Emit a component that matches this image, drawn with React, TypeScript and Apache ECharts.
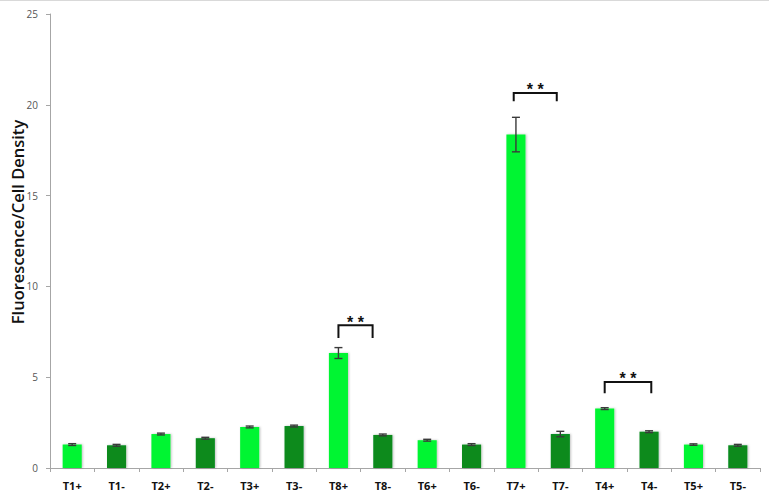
import React, { useEffect, useRef } from "react";
import * as echarts from "echarts";

const categories = ["T1+", "T1-", "T2+", "T2-", "T3+", "T3-", "T8+", "T8-", "T6+", "T6-", "T7+", "T7-", "T4+", "T4-", "T5+", "T5-"];
const means = [1.29, 1.25, 1.87, 1.64, 2.26, 2.31, 6.33, 1.82, 1.53, 1.29, 18.36, 1.87, 3.27, 2.0, 1.29, 1.25];
const errors = [0.05, 0.05, 0.05, 0.05, 0.05, 0.05, 0.3, 0.05, 0.05, 0.05, 0.95, 0.15, 0.05, 0.05, 0.04, 0.05];
const yTicks = [0, 5, 10, 15, 20, 25];
const yTitle = "Fluorescence/Cell Density";

// significance brackets: start / end position (category units), top and leg-bottom values
const bracketStart = [6.0, 9.95, 12.0];
const bracketEnd = [6.77, 10.92, 13.05];
const bracketTop = [7.86, 20.65, 4.74];
const bracketLeg = [7.16, 20.19, 4.11];
const bracketLabel = ["* *", "* *", "* *"];

const LIGHT = "#00f531";
const DARK = "#078a1c";

export default function App() {
  const ref = useRef<HTMLDivElement>(null);
  useEffect(() => {
    if (!ref.current) return;
    const chart = echarts.init(ref.current, null, { renderer: "svg" });

    const xPix = (api: any, v: number, yv: number) => {
      const base = Math.floor(v);
      const p = api.coord([base, yv]);
      const band = api.size([1, 0])[0];
      return [p[0] + (v - base) * band, p[1]];
    };

    chart.setOption({
      animation: false,
      backgroundColor: "#ffffff",
      grid: { left: 50, right: 9, top: 14, bottom: 26, containLabel: false, outerBoundsMode: "none" },
      xAxis: {
        type: "category",
        data: categories,
        axisLine: { lineStyle: { color: "#a6a6a6", width: 1 } },
        axisTick: { show: true, length: 4, alignWithLabel: false, lineStyle: { color: "#a6a6a6" } },
        axisLabel: {
          color: "#111",
          fontWeight: "bold",
          fontSize: 11,
          fontFamily: "Open Sans, Liberation Sans, sans-serif",
          margin: 12,
          interval: 0,
        },
        splitLine: { show: false },
      },
      yAxis: {
        type: "value",
        min: yTicks[0],
        max: yTicks[yTicks.length - 1],
        interval: 5,
        axisLine: { show: true, lineStyle: { color: "#a6a6a6", width: 1 } },
        axisTick: { show: true, length: 4, lineStyle: { color: "#a6a6a6" } },
        axisLabel: {
          color: "#555",
          fontSize: 10,
          fontFamily: "Open Sans, Liberation Sans, sans-serif",
          margin: 12,
        },
        splitLine: { show: false },
      },
      series: [
        {
          type: "bar",
          barWidth: "43%",
          data: means.map((v, i) => ({
            value: v,
            itemStyle: {
              color: categories[i].endsWith("+") ? LIGHT : DARK,
              shadowColor: "rgba(0,0,0,0.25)",
              shadowBlur: 2,
              shadowOffsetX: 1,
              shadowOffsetY: 0,
            },
          })),
          z: 2,
        },
        {
          type: "custom",
          z: 3,
          data: means.map((m, i) => [i, m - errors[i], m + errors[i]]),
          renderItem: (params: any, api: any) => {
            const x = api.value(0);
            const lo = api.coord([x, api.value(1)]);
            const hi = api.coord([x, api.value(2)]);
            const hw = 4;
            const style = { stroke: "#3a3a3a", lineWidth: 1.4, fill: "none" };
            return {
              type: "group",
              children: [
                { type: "line", shape: { x1: lo[0], y1: lo[1], x2: hi[0], y2: hi[1] }, style },
                { type: "line", shape: { x1: lo[0] - hw, y1: lo[1], x2: lo[0] + hw, y2: lo[1] }, style },
                { type: "line", shape: { x1: hi[0] - hw, y1: hi[1], x2: hi[0] + hw, y2: hi[1] }, style },
              ],
            };
          },
        },
        {
          type: "custom",
          z: 4,
          data: bracketStart.map((s, i) => [s, bracketEnd[i], bracketTop[i], bracketLeg[i]]),
          renderItem: (params: any, api: any) => {
            const s = api.value(0);
            const e = api.value(1);
            const top = api.value(2);
            const leg = api.value(3);
            const pTL = xPix(api, s, top);
            const pTR = xPix(api, e, top);
            const pBL = xPix(api, s, leg);
            const pBR = xPix(api, e, leg);
            return {
              type: "group",
              children: [
                {
                  type: "polyline",
                  shape: { points: [pBL, pTL, pTR, pBR] },
                  style: { stroke: "#111", lineWidth: 2, fill: "none" },
                },
                {
                  type: "text",
                  x: (pTL[0] + pTR[0]) / 2,
                  y: pTL[1] + 5,
                  style: {
                    text: bracketLabel[params.dataIndex],
                    fill: "#111",
                    fontSize: 16,
                    fontWeight: "bold",
                    fontFamily: "Liberation Sans, Arial, sans-serif",
                    align: "center",
                    verticalAlign: "bottom",
                  },
                },
              ],
            };
          },
        },
      ],
      graphic: [
        {
          type: "line",
          shape: { x1: 0, y1: 0.5, x2: 769, y2: 0.5 },
          style: { stroke: "#d9d9d9", lineWidth: 1 },
        },
        {
          type: "text",
          x: 17,
          y: 222,
          rotation: Math.PI / 2,
          style: {
            text: yTitle,
            fill: "#111",
            fontSize: 16.5,
            fontWeight: 600,
            fontFamily: "Open Sans, Liberation Sans, sans-serif",
            align: "center",
            verticalAlign: "middle",
          },
        },
      ],
    });
    return () => chart.dispose();
  }, []);
  return <div ref={ref} style={{ width: 769, height: 494, position: "absolute", left: 0, top: 0 }} />;
}
